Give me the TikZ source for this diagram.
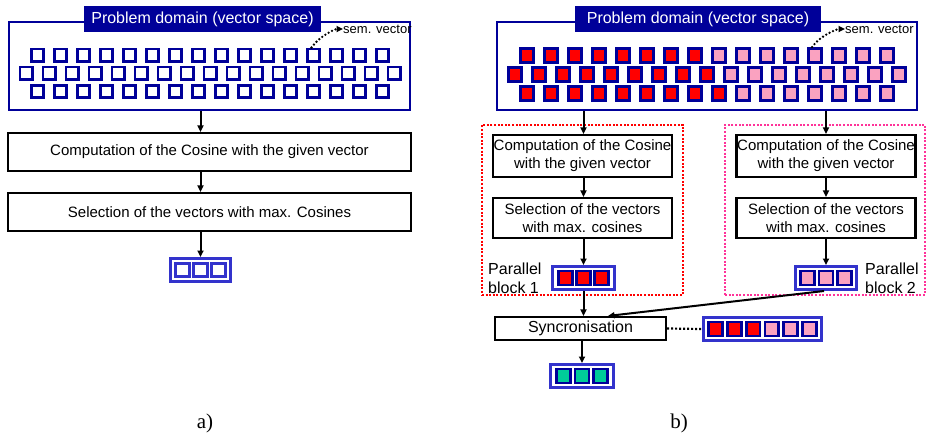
\documentclass[tikz,border=0pt]{standalone}
\usepackage{fontspec}
\setmainfont{Liberation Sans}
\newfontfamily\captionserif{Liberation Serif}
\usetikzlibrary{arrows.meta}
\definecolor{navy}{RGB}{0,0,153}
\definecolor{midblue}{RGB}{51,51,204}
\definecolor{cellred}{RGB}{255,0,0}
\definecolor{cellpink}{RGB}{250,162,192}
\definecolor{cellgreen}{RGB}{0,204,153}
\definecolor{blockpink}{RGB}{255,51,153}
\tikzset{
  spacebox/.style={draw=navy, line width=2.3pt, fill=white, inner sep=0pt},
  titlebar/.style={fill=navy, text=white, inner sep=0pt, font=\fontsize{16pt}{19pt}\selectfont},
  semlabel/.style={inner sep=0pt, anchor=west, font=\fontsize{13pt}{15pt}\selectfont},
  cellA/.style={draw=navy, line width=2.8pt, fill=white, inner sep=0pt, minimum size=12.2pt},
  cellB/.style={draw=navy, line width=3pt, inner sep=0pt, minimum size=13.5pt},
  procA/.style={draw=black, line width=2.1pt, fill=white, inner sep=0pt, align=center,
    minimum width=403pt, minimum height=38pt, font=\fontsize{15pt}{18pt}\selectfont},
  procB/.style={draw=black, line width=2.1pt, fill=white, inner sep=0pt, align=center,
    minimum width=179pt, font=\fontsize{15pt}{18pt}\selectfont},
  arrbox/.style={draw=midblue, line width=2.8pt, fill=white, inner sep=0pt, minimum height=23.2pt},
  slotA/.style={draw=midblue, line width=2.6pt, fill=white, inner sep=0pt,
    minimum width=13.5pt, minimum height=12.5pt},
  slotB/.style={draw=navy, line width=2.8pt, inner sep=0pt,
    minimum width=13.9pt, minimum height=13.9pt},
  flow/.style={line width=2pt, -{Triangle[length=6.5pt,width=6pt]}},
  semarrow/.style={line width=2.6pt, line cap=round, dash pattern=on 0pt off 3.8pt,
    -{Triangle[length=6.5pt,width=6pt]}},
  redblock/.style={draw=cellred, line width=2pt, dash pattern=on 2pt off 1.6pt, inner sep=0pt},
  pinkblock/.style={draw=blockpink, line width=2pt, dash pattern=on 2pt off 1.6pt, inner sep=0pt},
  blocknote/.style={inner sep=0pt, align=left, font=\fontsize{16pt}{19pt}\selectfont},
  capt/.style={inner sep=0pt, font=\captionserif\fontsize{21pt}{24pt}\selectfont},
}
\begin{document}
\begin{tikzpicture}[x=1pt,y=-1pt]
\useasboundingbox[fill=white] (0,0) rectangle (927,437);

% ---------------- a) sequential search ----------------
\node[spacebox, minimum width=401pt, minimum height=88pt] (domA) at (209.5,66) {};
\node[titlebar, minimum width=237pt, minimum height=26pt] (titleA) at (202.5,19)
  {Problem domain (vector space)};
\node[semlabel] (semA) at (343,29) {sem. vector};
\foreach \k in {0,...,15} \node[cellA] (cA-1-\k) at (37.5+23*\k,55) {};
\foreach \k in {0,...,16} \node[cellA] (cA-2-\k) at (26+23*\k,73) {};
\foreach \k in {0,...,15} \node[cellA] (cA-3-\k) at (37.5+23*\k,91.5) {};
\draw[semarrow] ([xshift=-2pt]cA-1-12.north) .. controls +(55:14pt) and +(180:8pt) .. (semA.west);

\node[procA] (a1) at (209.5,152) {Computation of the Cosine with the given vector};
\node[procA] (a2) at (209.5,212) {Selection of the vectors with max. Cosines};

\node[arrbox, minimum width=60.2pt] (outA) at (200.5,270) {};
\foreach \i in {-1,0,1} \node[slotA] (outA-\i) at ([xshift=18*\i pt]outA.center) {};

\draw[flow] (outA |- domA.south) -- (outA |- a1.north);
\draw[flow] (outA |- a1.south) -- (outA |- a2.north);
\draw[flow] (outA |- a2.south) -- (outA.north);

\node[capt] (captA) at (205,423) {a)};

% ---------------- b) parallel search ----------------
\node[redblock, minimum width=201pt, minimum height=170pt] (blk1) at (582.5,210) {};
\node[pinkblock, minimum width=200pt, minimum height=170pt] (blk2) at (825,210) {};

\node[spacebox, minimum width=420pt, minimum height=88pt] (domB) at (707,66) {};
\node[titlebar, minimum width=246pt, minimum height=26pt] (titleB) at (698,19)
  {Problem domain (vector space)};
\node[semlabel] (semB) at (845,29) {sem. vector};
\foreach \k in {0,...,15}{
  \ifnum\k<8 \def\cellcol{cellred}\else\def\cellcol{cellpink}\fi
  \node[cellB, fill=\cellcol] (cB-1-\k) at (527+24*\k,55.3) {};
}
\foreach \k in {0,...,16}{
  \ifnum\k<9 \def\cellcol{cellred}\else\def\cellcol{cellpink}\fi
  \node[cellB, fill=\cellcol] (cB-2-\k) at (515+24*\k,74.5) {};
}
\foreach \k in {0,...,15}{
  \ifnum\k<9 \def\cellcol{cellred}\else\def\cellcol{cellpink}\fi
  \node[cellB, fill=\cellcol] (cB-3-\k) at (527+24*\k,93.3) {};
}
\draw[semarrow] ([xshift=-3pt]cB-1-12.north) .. controls +(55:14pt) and +(180:8pt) .. (semB.west);

\node[procB, minimum height=42pt] (b1) at (582.5,156) {Computation of the Cosine\\with the given vector};
\node[procB, minimum height=40pt] (b2) at (582.5,218) {Selection of the vectors\\with max. cosines};
\node[procB, minimum height=42pt] (c1) at (826,156) {Computation of the Cosine\\with the given vector};
\node[procB, minimum height=40pt] (c2) at (826,218) {Selection of the vectors\\with max. cosines};

\node[arrbox, minimum width=62.2pt] (outB) at (583.5,278) {};
\foreach \i in {-1,0,1} \node[slotB, fill=cellred] (outB-\i) at ([xshift=18.3*\i pt]outB.center) {};
\node[arrbox, minimum width=61.2pt] (outC) at (826,278) {};
\foreach \i in {-1,0,1} \node[slotB, fill=cellpink] (outC-\i) at ([xshift=18.3*\i pt]outC.center) {};

\node[blocknote, anchor=west] (par1) at (488,278) {Parallel\\block 1};
\node[blocknote, anchor=west] (par2) at (865,278) {Parallel\\block 2};

\node[procB, minimum width=171pt, minimum height=23pt, font=\fontsize{16pt}{19pt}\selectfont]
  (sync) at (580.5,328.5) {Syncronisation};

\node[arrbox, minimum width=118.2pt] (merged) at (762.5,329) {};
\foreach \i/\cellcol in {-2.5/cellred,-1.5/cellred,-0.5/cellred,0.5/cellpink,1.5/cellpink,2.5/cellpink}
  \node[slotB, fill=\cellcol] at ([xshift=18.8*\i pt]merged.center) {};

\node[arrbox, minimum width=63.2pt] (final) at (582,376) {};
\foreach \i in {-1,0,1} \node[slotB, fill=cellgreen] (final-\i) at ([xshift=18.3*\i pt]final.center) {};

\draw[flow] (outB |- domB.south) -- (outB |- b1.north);
\draw[flow] (outB |- b1.south) -- (outB |- b2.north);
\draw[flow] (outB |- b2.south) -- (outB.north);
\draw[flow] (outC |- domB.south) -- (outC |- c1.north);
\draw[flow] (outC |- c1.south) -- (outC |- c2.north);
\draw[flow] (outC |- c2.south) -- (outC.north);
\draw[flow] (outB.south) -- (outB |- sync.north);
\draw[flow] ([xshift=-2pt]outC.south) -- ([xshift=27.5pt]sync.north);
\draw[line width=2.2pt, dash pattern=on 2pt off 2pt] (sync.east) -- (merged.west);
\draw[flow] (final |- sync.south) -- (final.north);

\node[capt] (captB) at (679,423) {b)};
\end{tikzpicture}
\end{document}
